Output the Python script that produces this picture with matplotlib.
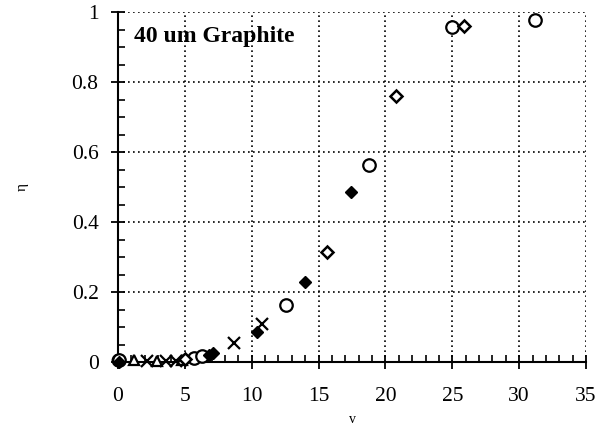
import matplotlib
matplotlib.use("Agg")
import matplotlib.pyplot as plt
from matplotlib.ticker import MultipleLocator

# Data series
circ_open_x = [0.1, 5.7, 6.3, 12.6, 18.8, 25.0, 31.2]
circ_open_y = [0.005, 0.012, 0.018, 0.163, 0.563, 0.957, 0.977]

diam_open_x = [5.0, 15.6, 20.8, 25.9]
diam_open_y = [0.008, 0.315, 0.76, 0.96]

diam_fill_x = [0.1, 6.8, 7.1, 10.4, 14.0, 17.4]
diam_fill_y = [0.0, 0.02, 0.025, 0.085, 0.23, 0.487]

cross_x = [2.2, 3.6, 4.3, 8.7, 10.8]
cross_y = [0.003, 0.003, 0.004, 0.055, 0.11]

tri_open_x = [1.2, 2.9, 4.8]
tri_open_y = [0.005, 0.004, 0.006]

circ_fill_x = [0.0]
circ_fill_y = [0.005]

x_ticks = [0, 5, 10, 15, 20, 25, 30, 35]
y_ticks = [0, 0.2, 0.4, 0.6, 0.8, 1]
y_tick_labels = ["0", "0.2", "0.4", "0.6", "0.8", "1"]

plt.rcParams['font.family'] = ['Liberation Serif', 'DejaVu Serif']

fig = plt.figure(figsize=(6.13, 4.30), dpi=100)
ax = fig.add_axes([0.1925, 0.158, 0.7635, 0.814])

ax.plot(circ_fill_x, circ_fill_y, 'o', ms=9, mfc='black', mec='black', ls='none', clip_on=False, zorder=5)
ax.plot(tri_open_x, tri_open_y, '^', ms=7, mfc='white', mec='black', mew=1.6, ls='none', clip_on=False, zorder=5)
ax.plot(cross_x, cross_y, 'x', ms=8, mec='black', mew=1.6, ls='none', clip_on=False, zorder=5)
ax.plot(circ_open_x, circ_open_y, 'o', ms=9, mfc='white', mec='black', mew=1.6, ls='none', clip_on=False, zorder=5)
ax.plot(diam_open_x, diam_open_y, 'D', ms=6, mfc='white', mec='black', mew=1.8, ls='none', clip_on=False, zorder=5)
ax.plot(diam_fill_x, diam_fill_y, 'D', ms=6.5, mfc='black', mec='black', ls='none', clip_on=False, zorder=5)

ax.set_xlim(0, 35)
ax.set_ylim(0, 1)
ax.set_xticks(x_ticks)
ax.set_xticklabels([str(t) for t in x_ticks])
ax.set_yticks(y_ticks)
ax.set_yticklabels(y_tick_labels)
ax.xaxis.set_minor_locator(MultipleLocator(1))
ax.yaxis.set_minor_locator(MultipleLocator(0.05))

ax.grid(True, which='major', ls=(0, (1, 2)), color='black', lw=1.2)
ax.spines['top'].set_visible(False)
ax.spines['right'].set_visible(False)
ax.spines['left'].set_linewidth(1.5)
ax.spines['bottom'].set_linewidth(1.5)
ax.tick_params(which='major', direction='inout', length=10, width=1.3, labelsize=15.5)
ax.tick_params(which='minor', direction='in', length=5, width=1.2)
ax.tick_params(axis='y', which='major', pad=9)
ax.tick_params(axis='x', which='major', pad=13)

ax.text(0.035, 0.96, "40 um Graphite", transform=ax.transAxes, fontsize=17,
        fontweight='bold', ha='left', va='top')

ax.set_xlabel("v", fontsize=10, labelpad=5)
ax.set_ylabel("η", fontsize=11, labelpad=31)

fig.savefig("out.png", dpi=100)
